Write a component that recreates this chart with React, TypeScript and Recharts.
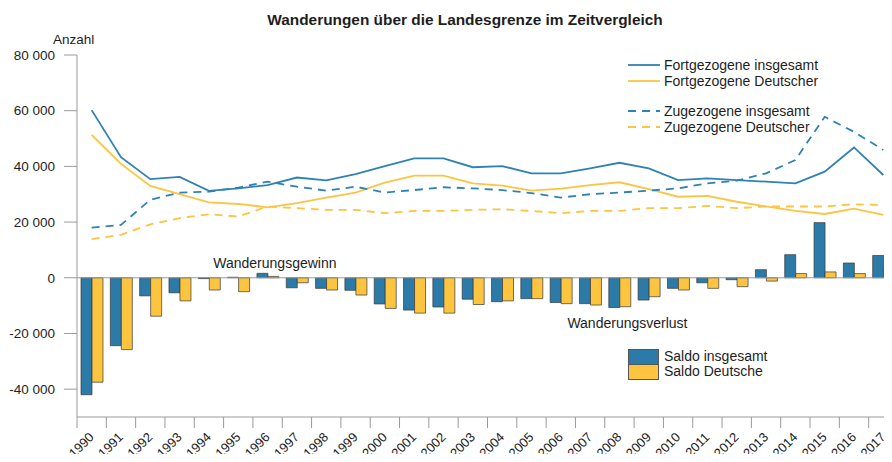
import { Bar, ComposedChart, Legend, Line, ReferenceDot, ReferenceLine, XAxis, YAxis } from 'recharts';

const years = [
  '1990', '1991', '1992', '1993', '1994', '1995', '1996', '1997', '1998', '1999',
  '2000', '2001', '2002', '2003', '2004', '2005', '2006', '2007', '2008', '2009',
  '2010', '2011', '2012', '2013', '2014', '2015', '2016', '2017',
];

const fortInsgesamt = [
  60200, 43300, 35400, 36200, 31200, 32100, 33300, 36000, 35000, 37200,
  40100, 42900, 42900, 39700, 40100, 37500, 37500, 39300, 41300, 39300,
  35100, 35700, 35100, 34500, 33900, 38100, 46800, 36900,
];
const fortDeutsche = [
  51300, 40900, 33000, 30000, 27100, 26500, 25300, 26800, 28800, 30600,
  34200, 36700, 36700, 33900, 33100, 31300, 32000, 33300, 34300, 31800,
  29100, 29400, 27300, 25600, 24000, 22900, 24800, 22600,
];
const zuInsgesamt = [
  18000, 19000, 28000, 30600, 30900, 32400, 34500, 32700, 31300, 32700,
  30600, 31500, 32500, 32100, 31500, 30400, 28800, 30000, 30600, 31300,
  32100, 33900, 34900, 37500, 42300, 57800, 52400, 45900,
];
const zuDeutsche = [
  13900, 15400, 19200, 21400, 22800, 22000, 25600, 25000, 24400, 24400,
  23200, 24000, 24000, 24400, 24600, 24000, 23200, 24000, 24000, 25000,
  25000, 25800, 25000, 25600, 25600, 25600, 26400, 26100,
];
const saldoInsgesamt = [
  -42000, -24400, -6500, -5400, -300, 200, 1600, -3600, -3800, -4500,
  -9400, -11600, -10500, -7700, -8600, -7500, -8900, -9300, -10700, -8000,
  -3800, -1800, -700, 2900, 8300, 19800, 5300, 8000,
];
const saldoDeutsche = [
  -37500, -25800, -13800, -8300, -4400, -5000, 500, -1800, -4400, -6200,
  -11000, -12700, -12700, -9600, -8300, -7500, -9300, -9800, -10400, -6800,
  -4400, -3800, -3200, -1200, 1500, 2100, 1500, 3300,
];
const yTicks = [-40000, -20000, 0, 20000, 40000, 60000, 80000];

const data = years.map((year, i) => ({
  year,
  fortInsgesamt: fortInsgesamt[i],
  fortDeutsche: fortDeutsche[i],
  zuInsgesamt: zuInsgesamt[i],
  zuDeutsche: zuDeutsche[i],
  saldoInsgesamt: saldoInsgesamt[i],
  saldoDeutsche: saldoDeutsche[i],
}));

const BLUE = '#2b7aa7';
const YELLOW = '#fcc43f';
const BLUE_LINE = '#2f82b4';
const YELLOW_LINE = '#fcc441';
const AXIS = '#9a9a9a';
const INK = '#1e1e1e';
const DASH = '8 6';

const W = 900;
const H = 462;
const PLOT_LEFT = 77;
const PLOT_RIGHT = 2;
const AXIS_Y = 417;
const HALF_BAND = (W - PLOT_LEFT - PLOT_RIGHT) / years.length / 2;

const fmt = (v: number) =>
  (v < 0 ? '-' : '') + String(Math.abs(v)).replace(/\B(?=(\d{3})+(?!\d))/g, ' ');

// tick line sits on the category boundary, the label under the bar pair
function YearTick({ x, payload }: { x: number; y: number; payload: { value: string } }) {
  const tx = x + 3;
  const ty = AXIS_Y + 21;
  return (
    <g>
      <line x1={x - HALF_BAND} x2={x - HALF_BAND} y1={AXIS_Y} y2={AXIS_Y + 11} stroke={AXIS} />
      <text x={tx} y={ty} transform={`rotate(-45 ${tx} ${ty})`} textAnchor="end" fontSize={13} fill={INK}>
        {payload.value}
      </text>
    </g>
  );
}

const lineLegend = [
  { name: 'Fortgezogene insgesamt', color: BLUE_LINE, dash: undefined, top: 57 },
  { name: 'Fortgezogene Deutscher', color: YELLOW_LINE, dash: undefined, top: 73 },
  { name: 'Zugezogene insgesamt', color: BLUE_LINE, dash: DASH, top: 103 },
  { name: 'Zugezogene Deutscher', color: YELLOW_LINE, dash: DASH, top: 119 },
];
const barLegend = [
  { name: 'Saldo insgesamt', color: BLUE, top: 349 },
  { name: 'Saldo Deutsche', color: YELLOW, top: 364 },
];

function ChartLegend() {
  return (
    <div style={{ position: 'relative', width: W, height: H, fontSize: 14, color: INK }}>
      {lineLegend.map((d) => (
        <div key={d.name} style={{ position: 'absolute', left: 628, top: d.top, height: 16, display: 'flex', alignItems: 'center' }}>
          <svg width={32} height={16}>
            <line x1={0} x2={32} y1={8} y2={8} stroke={d.color} strokeWidth={1.8} strokeDasharray={d.dash} />
          </svg>
          <span style={{ marginLeft: 4, lineHeight: '16px' }}>{d.name}</span>
        </div>
      ))}
      {barLegend.map((d) => (
        <div key={d.name} style={{ position: 'absolute', left: 628, top: d.top, height: 15, display: 'flex', alignItems: 'center' }}>
          <div style={{ width: 29, height: 14, background: d.color, border: '0.8px solid #555' }} />
          <span style={{ marginLeft: 5, lineHeight: '15px' }}>{d.name}</span>
        </div>
      ))}
    </div>
  );
}

export default function App() {
  return (
    <div
      style={{
        position: 'relative',
        margin: -8,
        width: 892,
        height: H,
        overflow: 'hidden',
        background: '#fff',
        fontFamily: '"Liberation Sans", Arial, sans-serif',
      }}
    >
      <div style={{ position: 'absolute', left: 0, width: 930, top: 11, textAlign: 'center', fontWeight: 'bold', fontSize: 15.4, color: INK }}>
        Wanderungen über die Landesgrenze im Zeitvergleich
      </div>
      <div style={{ position: 'absolute', left: 53, top: 32, fontSize: 13.5, color: INK }}>Anzahl</div>
      <ComposedChart
        width={W}
        height={H}
        data={data}
        margin={{ top: 55, right: PLOT_RIGHT, bottom: 0, left: 0 }}
        barCategoryGap={4}
        barGap={0}
      >
        <XAxis
          dataKey="year"
          height={H - AXIS_Y}
          axisLine={{ stroke: AXIS }}
          tickLine={false}
          tickSize={0}
          tickMargin={0}
          interval={0}
          tick={YearTick}
        />
        <YAxis
          width={PLOT_LEFT}
          domain={[-50000, 80000]}
          ticks={yTicks}
          tickFormatter={fmt}
          axisLine={{ stroke: AXIS }}
          tickLine={{ stroke: AXIS }}
          tickSize={13}
          tickMargin={9}
          tick={{ fontSize: 13.5, fill: INK }}
          allowDataOverflow
        />
        <ReferenceLine y={0} stroke={AXIS} />
        <Bar dataKey="saldoInsgesamt" name="Saldo insgesamt" fill={BLUE} stroke="#3a3a3a" strokeWidth={0.7} isAnimationActive={false} />
        <Bar dataKey="saldoDeutsche" name="Saldo Deutsche" fill={YELLOW} stroke="#3a3a3a" strokeWidth={0.7} isAnimationActive={false} />
        <Line dataKey="fortInsgesamt" stroke={BLUE_LINE} strokeWidth={1.8} dot={false} isAnimationActive={false} />
        <Line dataKey="fortDeutsche" stroke={YELLOW_LINE} strokeWidth={1.8} dot={false} isAnimationActive={false} />
        <Line dataKey="zuInsgesamt" stroke={BLUE_LINE} strokeWidth={1.8} strokeDasharray={DASH} dot={false} isAnimationActive={false} />
        <Line dataKey="zuDeutsche" stroke={YELLOW_LINE} strokeWidth={1.8} strokeDasharray={DASH} dot={false} isAnimationActive={false} />
        <ReferenceDot
          x="1997"
          y={5400}
          r={0}
          label={{ value: 'Wanderungsgewinn', position: 'center', dx: -22, fontSize: 14, fill: INK }}
        />
        <ReferenceDot
          x="2008"
          y={-16100}
          r={0}
          label={{ value: 'Wanderungsverlust', position: 'center', dx: 8, fontSize: 14, fill: INK }}
        />
        <Legend
          layout="horizontal"
          verticalAlign="middle"
          align="center"
          wrapperStyle={{ left: 0, top: 0, width: W, height: H, pointerEvents: 'none' }}
          content={() => <ChartLegend />}
        />
      </ComposedChart>
    </div>
  );
}
